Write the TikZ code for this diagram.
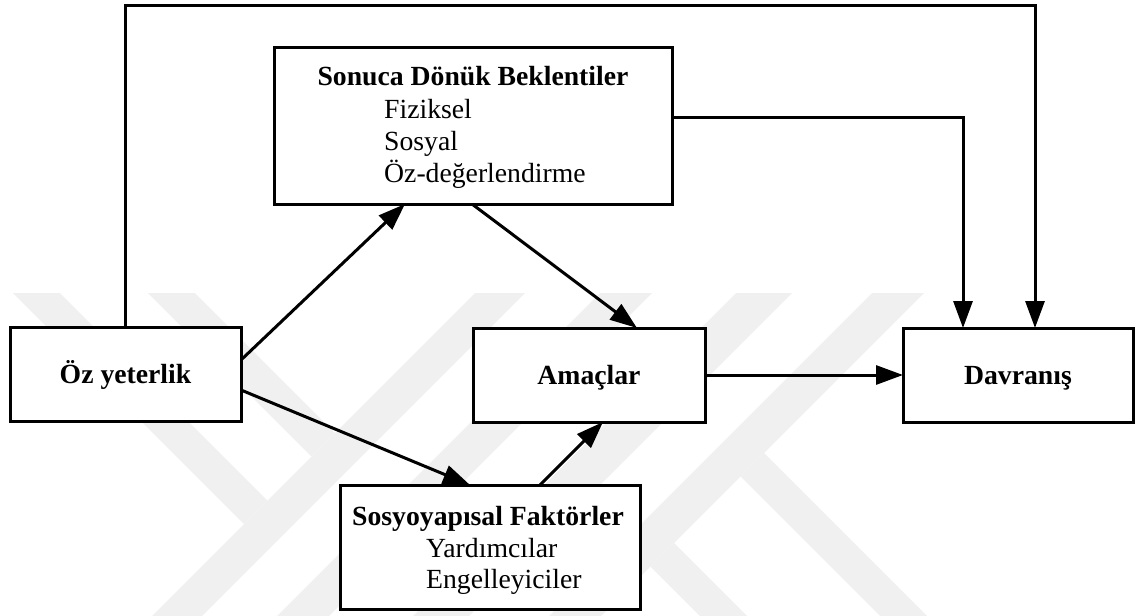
\documentclass[tikz,border=0pt]{standalone}
\usepackage{fontspec}
\setmainfont{Liberation Serif}
\usetikzlibrary{arrows.meta,calc}
\newcommand\figfont{\fontsize{27.7}{33}\selectfont}
\begin{document}
\begin{tikzpicture}[x=1pt,y=-1pt,
  box/.style={draw=black,line width=3pt,fill=white,rectangle,inner sep=0pt,
    outer sep=0pt,font=\figfont\bfseries,text height=22pt,text depth=4pt},
  link/.style={line width=3pt,draw=black,-{Triangle[length=27pt,width=19pt]}},
  head/.style={font=\figfont\bfseries,anchor=base,inner sep=0pt},
  entry/.style={font=\figfont,anchor=base west,inner sep=0pt},
  wm/.style={fill=black!6,draw=none}
]
\useasboundingbox (0,0) rectangle (1136,616);

% faint background emblem: left group
\fill[wm] (13,293) -- (60,293) -- (267.5,500.5) -- (244,524) -- cycle;
\fill[wm] (148,293) -- (195,293) -- (335,433) -- (311.5,456.5) -- cycle;
\fill[wm] (475,293) -- (525,293) -- (202,616) -- (152,616) -- cycle;
% faint background emblem: right group
\fill[wm] (600,293) -- (652,293) -- (329,616) -- (277,616) -- cycle;
\fill[wm] (736,293) -- (792,293) -- (469,616) -- (413,616) -- cycle;
\fill[wm] (872,293) -- (924,293) -- (601,616) -- (549,616) -- cycle;
\fill[wm] (764,453) -- (927,616) -- (880,616) -- (740.5,476.5) -- cycle;
\fill[wm] (674,543) -- (747,616) -- (700,616) -- (650.5,566.5) -- cycle;

% boxes
\node[box,minimum width=398pt,minimum height=157pt] (S) at (473,125.5) {};
\node[box,minimum width=231pt,minimum height=94pt] (O) at (125.5,374) {Öz yeterlik};
\node[box,minimum width=232pt,minimum height=94pt] (A) at (589,375) {Amaçlar};
\node[box,minimum width=230pt,minimum height=94pt] (D) at (1018,375) {Davranış};
\node[box,minimum width=300pt,minimum height=124pt] (F) at (490,547) {};

% box contents
\node[head] (St) at (473,85) {Sonuca Dönük Beklentiler};
\node[entry] (S1) at (384,118) {Fiziksel};
\node[entry] (S2) at (384,150) {Sosyal};
\node[entry] (S3) at (384,182) {Öz-değerlendirme};
\node[head] (Ft) at (488,525) {Sosyoyapısal Faktörler};
\node[entry] (F1) at (426,557) {Yardımcılar};
\node[entry] (F2) at (426,588) {Engelleyiciler};

% bends of the long connectors
\coordinate (tr) at (1035,5);
\coordinate (sr) at (963,117);

% connectors
\draw[link] (O.north) |- (tr) -- (tr |- D.north);
\draw[link] (S.east |- sr) -- (sr) -- (sr |- D.north);
\draw[link] ([yshift=14pt]O.east) -- ([xshift=131pt]S.south west);
\draw[link] ([yshift=-16pt]O.east) -- ([xshift=130pt]F.north west);
\draw[link] ([xshift=198pt]S.south west) -- ([xshift=164pt]A.north west);
\draw[link] ([xshift=200pt]F.north west) -- ([xshift=130pt]A.south west);
\draw[link] (A.east) -- (D.west);
\end{tikzpicture}
\end{document}
